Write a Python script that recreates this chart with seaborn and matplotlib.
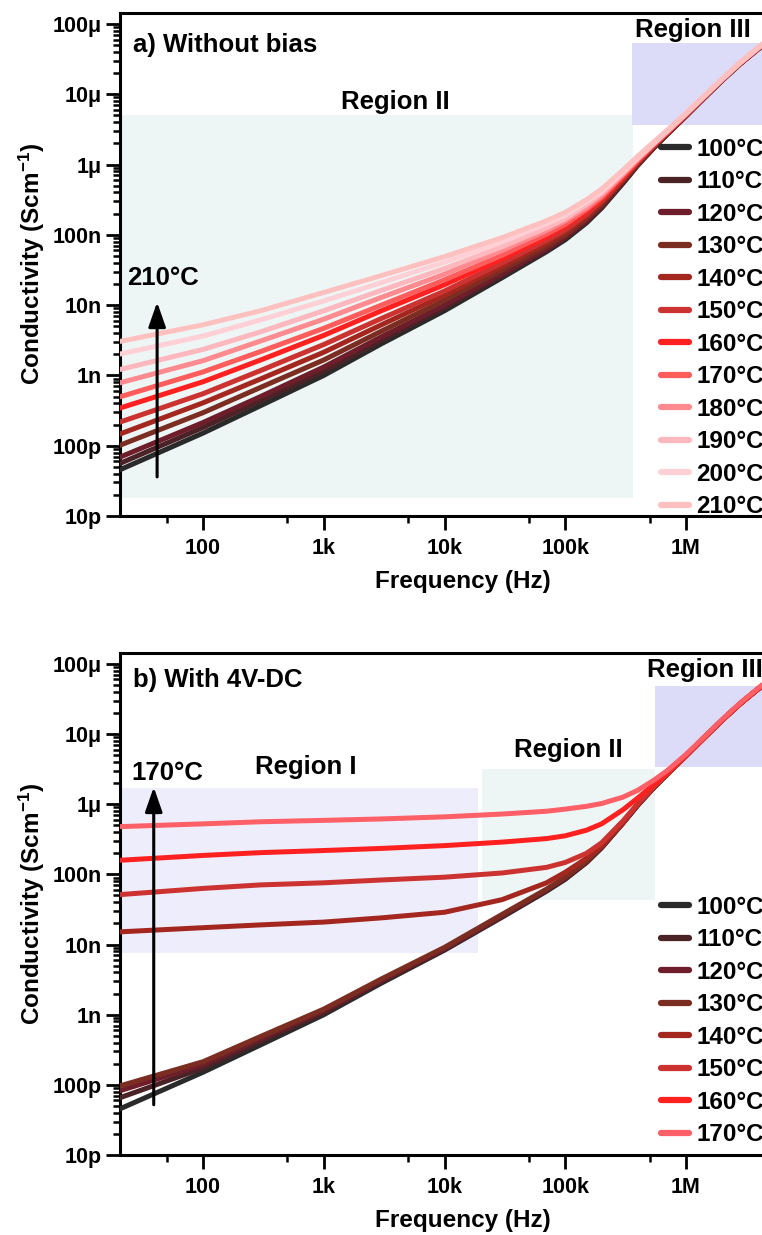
import numpy as np
import pandas as pd
import matplotlib
matplotlib.use("Agg")
import matplotlib.pyplot as plt
import matplotlib.ticker as mticker
from matplotlib.patches import Rectangle
from matplotlib.lines import Line2D
import seaborn as sns

# ---------------- data (conductivity, stored as log10 S/cm) ----------------
freqs = [20, 100, 300, 1e3, 3e3, 1e4, 3e4, 7e4, 1e5, 1.5e5, 2e5, 3e5, 4e5, 5.5e5, 7e5,
         1e6, 1.4e6, 2e6, 2.8e6, 4e6, 5.5e6]

temps_a = ["100°C", "110°C", "120°C", "130°C", "140°C", "150°C",
           "160°C", "170°C", "180°C", "190°C", "200°C", "210°C"]
a_100 = [-10.35, -9.82, -9.43, -9.00, -8.55, -8.08, -7.61, -7.24, -7.07, -6.83, -6.62, -6.27, -6.01, -5.75, -5.57, -5.31, -5.06, -4.80, -4.57, -4.35, -4.17]
a_110 = [-10.26, -9.74, -9.36, -8.94, -8.50, -8.04, -7.58, -7.22, -7.05, -6.81, -6.61, -6.26, -6.00, -5.75, -5.57, -5.31, -5.06, -4.80, -4.57, -4.35, -4.17]
a_120 = [-10.17, -9.67, -9.30, -8.88, -8.45, -8.00, -7.55, -7.20, -7.03, -6.80, -6.59, -6.25, -6.00, -5.74, -5.56, -5.31, -5.06, -4.80, -4.57, -4.35, -4.17]
a_130 = [-10.00, -9.53, -9.17, -8.78, -8.37, -7.93, -7.50, -7.16, -7.00, -6.77, -6.57, -6.23, -5.99, -5.73, -5.56, -5.30, -5.05, -4.80, -4.57, -4.35, -4.17]
a_140 = [-9.84, -9.39, -9.05, -8.67, -8.28, -7.86, -7.45, -7.12, -6.96, -6.74, -6.54, -6.22, -5.97, -5.73, -5.55, -5.30, -5.05, -4.79, -4.56, -4.34, -4.16]
a_150 = [-9.67, -9.26, -8.93, -8.56, -8.19, -7.80, -7.40, -7.08, -6.93, -6.71, -6.52, -6.20, -5.96, -5.72, -5.55, -5.30, -5.05, -4.79, -4.56, -4.34, -4.16]
a_160 = [-9.47, -9.09, -8.78, -8.43, -8.08, -7.71, -7.34, -7.03, -6.88, -6.67, -6.49, -6.18, -5.95, -5.71, -5.54, -5.29, -5.05, -4.79, -4.56, -4.34, -4.16]
a_170 = [-9.31, -8.95, -8.66, -8.33, -8.00, -7.64, -7.29, -6.99, -6.85, -6.64, -6.47, -6.16, -5.94, -5.70, -5.54, -5.29, -5.04, -4.79, -4.56, -4.34, -4.16]
a_180 = [-9.11, -8.79, -8.51, -8.20, -7.89, -7.56, -7.22, -6.94, -6.80, -6.61, -6.44, -6.14, -5.92, -5.70, -5.53, -5.28, -5.04, -4.79, -4.56, -4.34, -4.16]
a_190 = [-8.92, -8.63, -8.38, -8.08, -7.79, -7.48, -7.17, -6.90, -6.77, -6.57, -6.41, -6.12, -5.91, -5.69, -5.52, -5.28, -5.04, -4.78, -4.55, -4.33, -4.15]
a_200 = [-8.70, -8.44, -8.21, -7.94, -7.68, -7.39, -7.10, -6.84, -6.72, -6.53, -6.38, -6.10, -5.89, -5.68, -5.52, -5.27, -5.03, -4.78, -4.55, -4.33, -4.15]
a_210 = [-8.52, -8.28, -8.08, -7.82, -7.58, -7.31, -7.04, -6.80, -6.68, -6.50, -6.35, -6.08, -5.88, -5.67, -5.51, -5.27, -5.03, -4.78, -4.55, -4.33, -4.15]
series_a = [a_100, a_110, a_120, a_130, a_140, a_150, a_160, a_170, a_180, a_190, a_200, a_210]

temps_b = ["100°C", "110°C", "120°C", "130°C", "140°C", "150°C", "160°C", "170°C"]
b_100 = [-10.35, -9.82, -9.43, -9.00, -8.55, -8.08, -7.61, -7.24, -7.07, -6.83, -6.62, -6.27, -6.01, -5.75, -5.57, -5.31, -5.06, -4.80, -4.57, -4.35, -4.17]
b_110 = [-10.19, -9.76, -9.38, -8.97, -8.53, -8.07, -7.60, -7.23, -7.06, -6.83, -6.62, -6.27, -6.01, -5.75, -5.57, -5.31, -5.06, -4.80, -4.57, -4.35, -4.17]
b_120 = [-10.09, -9.71, -9.34, -8.94, -8.51, -8.06, -7.59, -7.22, -7.05, -6.82, -6.61, -6.27, -6.01, -5.75, -5.57, -5.31, -5.06, -4.80, -4.57, -4.35, -4.17]
b_130 = [-10.02, -9.67, -9.31, -8.92, -8.49, -8.04, -7.57, -7.21, -7.04, -6.81, -6.60, -6.26, -6.00, -5.75, -5.57, -5.31, -5.06, -4.80, -4.57, -4.35, -4.17]
b_140 = [-7.82, -7.76, -7.72, -7.68, -7.62, -7.54, -7.36, -7.12, -6.97, -6.77, -6.60, -6.27, -6.00, -5.75, -5.57, -5.31, -5.06, -4.80, -4.57, -4.35, -4.17]
b_150 = [-7.29, -7.20, -7.15, -7.12, -7.08, -7.04, -6.98, -6.90, -6.83, -6.70, -6.55, -6.24, -5.99, -5.74, -5.57, -5.31, -5.06, -4.80, -4.57, -4.35, -4.17]
b_160 = [-6.80, -6.73, -6.69, -6.66, -6.63, -6.59, -6.54, -6.49, -6.45, -6.37, -6.28, -6.08, -5.91, -5.71, -5.55, -5.30, -5.06, -4.80, -4.57, -4.35, -4.17]
b_170 = [-6.32, -6.28, -6.25, -6.23, -6.21, -6.18, -6.14, -6.10, -6.07, -6.03, -5.99, -5.90, -5.80, -5.65, -5.52, -5.29, -5.05, -4.79, -4.56, -4.34, -4.16]
series_b = [b_100, b_110, b_120, b_130, b_140, b_150, b_160, b_170]

colors_a = ["#2a2a2a", "#4b2226", "#6e1e2b", "#7b2d22", "#a3271f", "#cc3330",
            "#ff2020", "#ff5c5c", "#ff8a8f", "#ffb8bd", "#ffd0d5", "#ffc0c0"]
colors_b = ["#2a2a2a", "#4b2226", "#6e1e2b", "#7b2d22", "#a3271f", "#cc3330",
            "#ff2020", "#ff5f66"]

ytick_vals = [1e-11, 1e-10, 1e-9, 1e-8, 1e-7, 1e-6, 1e-5, 1e-4]
ytick_labels = ["10p", "100p", "1n", "10n", "100n", "1μ", "10μ", "100μ"]
xtick_vals = [100, 1e3, 1e4, 1e5, 1e6]
xtick_labels = ["100", "1k", "10k", "100k", "1M"]

# ---------------- style ----------------
sns.set_theme(style="ticks")
plt.rcParams["font.family"] = ["Liberation Sans", "DejaVu Sans"]
plt.rcParams["font.weight"] = "bold"
plt.rcParams["axes.labelweight"] = "bold"
plt.rcParams["text.color"] = "black"
plt.rcParams["axes.labelcolor"] = "black"
plt.rcParams["xtick.color"] = "black"
plt.rcParams["ytick.color"] = "black"
plt.rcParams["xtick.labelcolor"] = "black"
plt.rcParams["ytick.labelcolor"] = "black"
plt.rcParams["mathtext.fontset"] = "custom"
plt.rcParams["mathtext.rm"] = "Liberation Sans:bold"
plt.rcParams["mathtext.bf"] = "Liberation Sans:bold"
plt.rcParams["mathtext.it"] = "Liberation Sans:bold"

W, H = 762, 1235
fig = plt.figure(figsize=(W / 100, H / 100), dpi=100)

X_LEFT = 119.5
X_RIGHT = 806.7
XMIN, XMAX = 20.3, 1e7
YMIN, YMAX = 1e-11, 1.43e-4


def make_axes(top_px, bot_px):
    return fig.add_axes([X_LEFT / W, (H - bot_px) / H,
                         (X_RIGHT - X_LEFT) / W, (bot_px - top_px) / H])


def style_axes(ax):
    ax.set_xscale("log")
    ax.set_yscale("log")
    ax.set_xlim(XMIN, XMAX)
    ax.set_ylim(YMIN, YMAX)
    ax.set_yticks(ytick_vals)
    ax.set_yticklabels(ytick_labels)
    ax.set_xticks(xtick_vals)
    ax.set_xticklabels(xtick_labels)
    ax.xaxis.set_minor_locator(mticker.LogLocator(base=10, subs=[5.0], numticks=20))
    ax.yaxis.set_minor_locator(mticker.LogLocator(base=10, subs=np.arange(2, 10), numticks=20))
    ax.xaxis.set_minor_formatter(mticker.NullFormatter())
    ax.yaxis.set_minor_formatter(mticker.NullFormatter())
    ax.tick_params(which="major", direction="out", length=10, width=2,
                   labelsize=15.5, color="black", labelcolor="black")
    ax.tick_params(which="minor", direction="out", length=5, width=1.8, color="black")
    ax.tick_params(axis="x", which="major", pad=5.5)
    ax.tick_params(axis="y", which="major", pad=3)
    ax.tick_params(top=False, right=False, which="both")
    for sp in ax.spines.values():
        sp.set_linewidth(2.2)
        sp.set_color("black")
    ax.set_xlabel("Frequency (Hz)", fontsize=17.5, labelpad=8.5, color="black")
    ax.set_ylabel("Conductivity (Scm$^{-1}$)", fontsize=17.5, labelpad=4, color="black")
    ax.set_facecolor("white")


def draw_lines(ax, series, temps, colors):
    rows = []
    for t, vals in zip(temps, series):
        for f, v in zip(freqs, vals):
            rows.append({"f": f, "s": 10.0 ** v, "T": t})
    df = pd.DataFrame(rows)
    sns.lineplot(data=df, x="f", y="s", hue="T", hue_order=temps,
                 palette=dict(zip(temps, colors)), linewidth=3.6,
                 estimator=None, sort=False, legend=False, ax=ax, zorder=3)
    for ln in ax.get_lines():
        ln.set_solid_joinstyle("round")
        ln.set_solid_capstyle("round")


def draw_legend(ax, temps, colors, top_px):
    handles = [Line2D([0], [0], color=c, lw=4.5, solid_capstyle="round") for c in colors]
    leg = ax.legend(handles, temps, loc="upper left",
                    bbox_to_anchor=(661 / W, 1 - top_px / H),
                    bbox_transform=fig.transFigure, frameon=False,
                    fontsize=17.5, handlelength=1.15, handletextpad=0.3,
                    labelspacing=0.39, borderpad=0, borderaxespad=0)
    for txt in leg.get_texts():
        txt.set_fontweight("bold")
        txt.set_color("black")


# ---------------- panel a ----------------
ax1 = make_axes(13, 516)
style_axes(ax1)
ax1.add_patch(Rectangle((XMIN * 1.03, 1.8e-11), 3.65e5 - XMIN * 1.03, 5.0e-6 - 1.8e-11,
                        facecolor="#eef6f5", edgecolor="none", zorder=0))
ax1.add_patch(Rectangle((3.55e5, 3.7e-6), 1e7, 5.3e-5 - 3.7e-6,
                        facecolor="#dcdcf8", edgecolor="none", zorder=0))
draw_lines(ax1, series_a, temps_a, colors_a)
ax1.text(0.0196, 0.936, "a) Without bias", transform=ax1.transAxes,
         fontsize=18.5, fontweight="bold", ha="left", va="center")
ax1.text(3.9e3, 7.8e-6, "Region II", fontsize=18.5, fontweight="bold",
         ha="center", va="center")
ax1.text(3.8e5, 8.3e-5, "Region III", fontsize=18.5, fontweight="bold",
         ha="left", va="center")
ax1.text(0.011, 0.473, "210°C", transform=ax1.transAxes,
         fontsize=18.5, fontweight="bold", ha="left", va="center")
ax1.annotate("", xy=(41.6, 1.1e-8), xytext=(41.6, 3.6e-11),
             arrowprops=dict(arrowstyle="-|>,head_length=1.0,head_width=0.35",
                             lw=2.2, color="black", mutation_scale=15,
                             shrinkA=0, shrinkB=0), zorder=5)
draw_legend(ax1, temps_a, colors_a, 138)

# ---------------- panel b ----------------
ax2 = make_axes(653, 1155)
style_axes(ax2)
ax2.add_patch(Rectangle((XMIN * 1.03, 7.6e-9), 1.9e4 - XMIN * 1.03, 1.7e-6 - 7.6e-9,
                        facecolor="#ededfb", edgecolor="none", zorder=0))
ax2.add_patch(Rectangle((2.05e4, 4.3e-8), 5.56e5 - 2.05e4, 3.2e-6 - 4.3e-8,
                        facecolor="#eef6f5", edgecolor="none", zorder=0))
ax2.add_patch(Rectangle((5.56e5, 3.4e-6), 1e7, 4.8e-5 - 3.4e-6,
                        facecolor="#dcdcf8", edgecolor="none", zorder=0))
draw_lines(ax2, series_b, temps_b, colors_b)
ax2.text(0.0196, 0.946, "b) With 4V-DC", transform=ax2.transAxes,
         fontsize=18.5, fontweight="bold", ha="left", va="center")
ax2.text(713, 3.4e-6, "Region I", fontsize=18.5, fontweight="bold",
         ha="center", va="center")
ax2.text(1.06e5, 5.9e-6, "Region II", fontsize=18.5, fontweight="bold",
         ha="center", va="center")
ax2.text(4.8e5, 8.1e-5, "Region III", fontsize=18.5, fontweight="bold",
         ha="left", va="center")
ax2.text(0.018, 0.761, "170°C", transform=ax2.transAxes,
         fontsize=18.5, fontweight="bold", ha="left", va="center")
ax2.annotate("", xy=(39, 1.75e-6), xytext=(39, 5.2e-11),
             arrowprops=dict(arrowstyle="-|>,head_length=1.0,head_width=0.35",
                             lw=2.2, color="black", mutation_scale=15,
                             shrinkA=0, shrinkB=0), zorder=5)
draw_legend(ax2, temps_b, colors_b, 896)

fig.savefig("out.png", dpi=100, facecolor="white")
